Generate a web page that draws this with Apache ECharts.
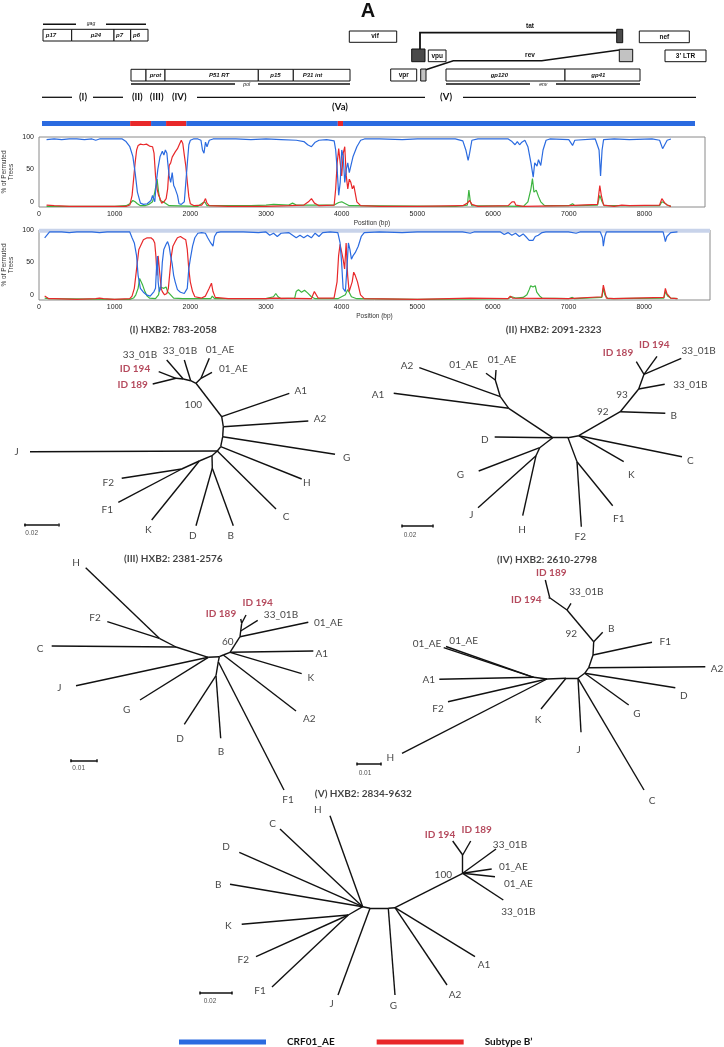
<!DOCTYPE html>
<html><head><meta charset="utf-8">
<script src="https://cdn.jsdelivr.net/npm/echarts@6/dist/echarts.min.js"></script>
<style>html,body{margin:0;padding:0;background:#fff}#c{width:724px;height:1047px}</style>
</head><body><div id="c"></div><script>
// ---------------- DATA ----------------
const posTicks = [0,1000,2000,3000,4000,5000,6000,7000,8000];
const pctTicks = [0,50,100];
const AE = 'CRF01_AE', BP = 'Subtype B\u2019';

// Bootscan 1 : [position bp, % permuted trees]
const blue1 = [[100,96],[200,97],[300,96],[400,97],[500,97],[600,96],[700,97],[750,95],[800,97],[900,97],[1000,97],[1100,97],[1150,93],[1200,85],[1240,70],[1270,45],[1300,15],[1340,-2],[1380,-4],[1430,-3],[1480,2],[1500,10],[1530,0],[1550,30],[1570,50],[1600,70],[1630,78],[1650,72],[1670,80],[1690,75],[1700,62],[1720,40],[1740,30],[1760,45],[1780,25],[1800,20],[1830,10],[1850,-3],[1880,-4],[1920,0],[1940,30],[1960,60],[1980,88],[2000,95],[2040,97],[2100,97],[2140,95],[2160,80],[2180,75],[2200,92],[2220,85],[2250,95],[2300,97],[2600,97],[2800,96],[3000,97],[3200,96],[3400,95],[3500,93],[3550,88],[3600,85],[3650,92],[3700,95],[3800,96],[3900,94],[3920,80],[3940,50],[3960,10],[3980,30],[4000,80],[4020,70],[4040,30],[4060,50],[4080,60],[4100,45],[4120,55],[4150,70],[4200,85],[4250,95],[4300,97],[4500,97],[4800,96],[5000,97],[5300,97],[5500,97],[5600,94],[5640,80],[5670,64],[5690,75],[5720,95],[5800,97],[6000,97],[6200,97],[6250,93],[6290,88],[6320,93],[6350,88],[6380,92],[6420,95],[6460,85],[6500,60],[6530,38],[6550,60],[6580,55],[6600,65],[6630,56],[6660,80],[6700,95],[6750,97],[7000,96],[7050,87],[7080,95],[7100,97],[7350,97],[7400,80],[7420,40],[7440,80],[7460,96],[7600,97],[7800,96],[8100,97],[8200,95],[8240,82],[8260,84],[8300,95],[8350,97]];
const red1 = [[100,-5],[200,-6],[400,-7],[800,-7],[1000,-7],[1150,-7],[1200,-5],[1230,10],[1250,35],[1270,60],[1290,80],[1310,87],[1340,89],[1380,88],[1420,89],[1460,86],[1500,85],[1520,75],[1540,40],[1560,20],[1580,10],[1600,5],[1620,-2],[1650,0],[1680,5],[1700,20],[1720,56],[1740,60],[1760,69],[1780,72],[1800,77],[1830,82],[1860,90],[1880,95],[1900,90],[1920,72],[1940,55],[1960,30],[1980,8],[2000,-3],[2050,-6],[2150,-5],[2180,0],[2200,5],[2220,-2],[2250,-6],[2500,-7],[3000,-7],[3300,-6],[3500,-5],[3560,0],[3600,5],[3640,-2],[3700,-6],[3900,-5],[3920,20],[3940,60],[3960,82],[3980,60],[4000,40],[4020,75],[4040,85],[4060,40],[4080,20],[4100,35],[4120,30],[4140,20],[4160,25],[4200,0],[4250,-6],[4500,-7],[5000,-7],[5600,-6],[5660,-2],[5690,2],[5720,-4],[5800,-7],[6200,-6],[6250,0],[6280,0],[6300,-5],[6400,-7],[7000,-6],[7380,-4],[7410,25],[7430,10],[7460,-5],[7600,-7],[7700,-5],[7800,-6],[8200,-5],[8230,5],[8270,-2],[8300,-5],[8350,-7]];
const green1 = [[100,-7],[1000,-7],[1150,-6],[1200,-3],[1240,2],[1270,0],[1300,-3],[1340,-6],[1400,-6],[1450,-4],[1500,0],[1530,15],[1560,35],[1580,15],[1600,2],[1640,0],[1680,-3],[1720,-6],[2100,-7],[2160,-2],[2190,0],[2220,-6],[2800,-6],[3000,-5],[3100,-4],[3300,-5],[3350,-2],[3400,-5],[3600,-5],[3900,-5],[3960,-1],[4000,0],[4050,-3],[4100,-6],[5500,-7],[5660,-5],[5680,18],[5700,0],[5720,-6],[6400,-7],[6460,0],[6500,20],[6520,36],[6540,15],[6570,18],[6600,8],[6630,0],[6680,-6],[7000,-6],[7050,-3],[7080,-6],[7380,-5],[7410,10],[7440,0],[7470,-6],[8200,-6],[8230,0],[8270,-2],[8300,-5],[8350,-7]];

// Bootscan 2
const blue2 = [[75,88],[140,97],[300,97],[400,96],[500,97],[700,97],[800,96],[900,97],[1000,97],[1100,97],[1200,97],[1230,88],[1260,80],[1290,60],[1310,30],[1340,10],[1380,4],[1420,0],[1470,-2],[1520,5],[1540,10],[1555,45],[1565,60],[1575,20],[1590,5],[1610,10],[1630,50],[1650,70],[1680,78],[1700,82],[1720,75],[1740,60],[1760,48],[1780,30],[1800,20],[1830,8],[1870,4],[1920,2],[1960,10],[1980,40],[2000,55],[2030,75],[2060,88],[2100,95],[2150,96],[2200,95],[2230,88],[2270,80],[2300,75],[2320,90],[2350,96],[2400,97],[2700,97],[2900,96],[3000,97],[3050,92],[3100,95],[3150,90],[3200,95],[3300,96],[3400,88],[3450,92],[3500,88],[3550,92],[3600,88],[3650,95],[3700,90],[3750,96],[3850,97],[3950,96],[3980,80],[4000,50],[4020,10],[4050,5],[4070,40],[4090,80],[4110,70],[4130,55],[4150,60],[4180,65],[4220,75],[4260,90],[4300,96],[4500,97],[4800,96],[5000,97],[5600,97],[5700,95],[5750,97],[6100,97],[6150,93],[6200,96],[6250,92],[6300,95],[6350,90],[6400,94],[6450,88],[6480,84],[6500,86],[6530,84],[6560,90],[6600,92],[6650,96],[6700,97],[7000,97],[7100,95],[7150,97],[7420,97],[7450,88],[7460,75],[7480,90],[7500,97],[7700,97],[8250,97],[8270,88],[8280,82],[8300,90],[8350,96],[8440,97]];
const red2 = [[75,-2],[100,-4],[130,-6],[200,-6],[500,-7],[750,-6],[800,-5],[850,-6],[1000,-7],[1200,-6],[1230,-2],[1260,10],[1280,30],[1300,50],[1320,70],[1340,75],[1380,85],[1430,88],[1480,88],[1510,85],[1530,80],[1545,60],[1560,30],[1575,60],[1600,60],[1615,10],[1630,5],[1660,0],[1690,2],[1710,10],[1730,35],[1750,60],[1770,75],[1800,82],[1830,88],[1870,90],[1910,87],[1940,85],[1960,70],[1980,40],[2000,20],[2030,5],[2060,-3],[2150,-5],[2200,-2],[2250,10],[2280,18],[2300,5],[2330,-4],[2500,-6],[3000,-6],[3100,-5],[3600,-6],[3640,5],[3660,8],[3690,-5],[3900,-5],[3940,20],[3960,60],[3980,78],[4000,80],[4020,55],[4040,40],[4060,80],[4080,30],[4100,5],[4140,20],[4160,35],[4180,30],[4210,20],[4250,0],[4300,-6],[5000,-7],[5700,-5],[6200,-6],[6230,-2],[6260,-5],[7000,-6],[7440,-3],[7460,15],[7480,5],[7500,-5],[7600,-6],[8260,-4],[8280,10],[8300,2],[8350,-5],[8440,-6]];
const green2 = [[75,-5],[100,-3],[130,-6],[1000,-7],[1200,-7],[1250,-5],[1280,0],[1310,10],[1330,25],[1350,28],[1370,15],[1400,5],[1430,-2],[1460,-5],[1540,-6],[1580,0],[1600,12],[1620,15],[1650,10],[1680,12],[1700,5],[1720,8],[1740,0],[1780,-5],[1900,-6],[2270,-6],[2290,-2],[2320,-6],[3000,-6],[3100,-3],[3130,2],[3160,-3],[3200,-6],[3380,-5],[3400,5],[3430,8],[3470,4],[3510,7],[3550,3],[3600,-3],[3650,-6],[3950,-6],[4050,0],[4080,8],[4100,4],[4130,-3],[4200,-6],[5000,-7],[6200,-6],[6250,-3],[6300,-5],[6400,-4],[6450,0],[6480,8],[6500,14],[6530,12],[6560,14],[6580,4],[6620,-2],[6650,-5],[7000,-6],[7050,-4],[7080,-6],[7440,-4],[7460,10],[7480,0],[7520,-6],[8260,-5],[8280,5],[8310,-2],[8350,-5],[8440,-6]];
const band2 = [[0,99],[8870,99]];

// Recombination map: [start %, end %, subtype]
const recombSegments = [[0,13.5,'AE'],[13.5,16.7,'B'],[16.7,19.0,'AE'],[19.0,22.1,'B'],[22.1,45.3,'AE'],[45.3,46.1,'B'],[46.1,100,'AE']];

// Trees: nodes [id, x, y, parent] in drawing units; labels [text, x, y, kind]
const tree1Nodes = [['n1',196,68.3,'n6'],['n2',190.7,65.7,'n1'],['n3',183.3,64,'n2'],['n4',176,63.3,'n3'],['n5',201,63.3,'n1'],
 ['t1',184.3,45,'n2'],['t2',166.7,45,'n3'],['t3',158.7,56.7,'n4'],['t4',152.7,69,'n4'],['t5',209.3,43.3,'n5'],['t6',212,57.3,'n5'],
 ['n6',221.7,101.7,'n7'],['A1',289.3,78.3,'n6'],['n7',223.3,111.7,'n8'],['A2',308.3,106,'n7'],['n8',222.7,121.7,'n9'],['G',335,139.3,'n8'],
 ['n9',220.7,131.7,'n10'],['H',301.7,164,'n9'],['n10',217.3,136,'n11'],['C',276,194,'n10'],['J',30,136.7,'n10'],['n11',212,140.7,null],
 ['n12',212.3,153.3,'n11'],['D',196,210.7,'n12'],['B',233.3,210.7,'n12'],['n13',199.3,146,'n11'],['K',151.7,205,'n13'],
 ['n14',181.7,154,'n13'],['F2',121.7,163.3,'n14'],['F1',118.3,187.3,'n14']];
const tree1Labels = [['(I) HXB2: 783-2058',173.3,15,'title'],['33_01B',140,39.3],['33_01B',180,36],['01_AE',220,35],['01_AE',233.3,54],['ID 194',135,53.3,'red'],['ID 189',132.7,70,'red'],['100',193.3,90],['A1',300.7,76],['A2',320,104],['G',346.7,142.7],['J',16.7,136.7],['H',306.7,167.3],['C',286,201.7],['B',230.7,220.7],['D',192.7,220.7],['K',148.3,215],['F1',107.3,195],['F2',108.3,167.3],['0.02',31.7,218.3,'small']];

const tree2Nodes = [['hl',190.7,122.7,null],['hr',206,122.7,'hl'],['p1',146.7,93.3,'hl'],['p2',138.3,81.7,'p1'],['p3',133.3,65,'p2'],
 ['ae1',124,58.3,'p3'],['ae2',134,55,'p3'],['A1',31.7,78.3,'p1'],['A2',57.3,52.7,'p2'],['D',132.7,122,'hl'],
 ['p4',177.7,132.7,'hl'],['G',116.7,156,'p4'],['p5',174,140.7,'p4'],['J',116,192.7,'p5'],['H',160.7,200.7,'p5'],
 ['p6',215,146.7,'hr'],['F2',219.3,211.7,'p6'],['F1',250.7,190.7,'p6'],['hr2',216.7,120.7,'hr'],['K',261.7,146.7,'hr2'],['C',320,141.7,'hr2'],
 ['p7',258.3,96.7,'hr2'],['B',303.3,98.3,'p7'],['p8',276.7,74,'p7'],['b1',302.7,69.3,'p8'],
 ['p9',282,59.3,'p8'],['b2',319.3,43.3,'p9'],['i194',295,41.3,'p9'],['i189',274.3,46.7,'p9']];
const tree2Labels = [['(II) HXB2: 2091-2323',191.7,15,'title'],['01_AE',101.7,50],['01_AE',140,45],['A2',45,50.3],['A1',16,80],['D',122.7,125],['G',98.3,159.3],['J',109.3,200],['H',160,215],['F2',218.3,221.7],['F1',256.7,203.3],['K',269.3,159.3],['C',328.3,145.7],['92',240.7,96.7],['B',311.7,101],['93',260,80],['33_01B',328.3,70],['33_01B',336.7,36],['ID 189',256,37.3,'red'],['ID 194',292.3,29.3,'red'],['0.02',48,220.7,'small']];

const tree3Nodes = [['hl',208.3,112.3,null],['hr',219.3,111.7,'hl'],['r0',223.3,110,'hr'],['A2',296,166,'r0'],
 ['r1',230,107.3,'r0'],['A1',313.3,106,'r1'],['K',301.7,128.7,'r1'],['r2',240,91.7,'r1'],['ae',308.3,77.3,'r2'],
 ['r3',240.7,86,'r2'],['b',257.7,75.3,'r3'],['r4',241.7,78.3,'r3'],['i189',240.7,74,'r4'],['i194',246,70,'r4'],
 ['l1',218.3,116.7,'hr'],['F1',284,245,'l1'],['l2',216,130.7,'l1'],['B',220.7,193.3,'l2'],['D',184.3,179.3,'l2'],
 ['G',140,155,'hl'],['J',76,140.7,'hl'],['pc',176,102,'hl'],['C',51.7,101,'pc'],['pf',159.3,93.3,'pc'],['H',85.7,22.7,'pf'],['F2',107.3,76.7,'pf']];
const tree3Labels = [['(III) HXB2: 2381-2576',173.3,13.3,'title'],['H',76,17.3],['F2',95,72.7],['C',40,103.3],['J',59.3,142.7],['G',126.7,165],['D',180,193.3],['B',221,206.7],['A2',309.3,173.3],['K',310.7,132.7],['A1',321.7,108.3],['01_AE',328.3,77.3],['33_01B',281,70],['ID 194',257.7,57.7,'red'],['ID 189',221,69,'red'],['60',227.7,96.7],['F1',288,255],['0.01',78.7,223,'small']];

const tree4Nodes = [['q0',193.7,132.3,'q1'],['ae1',103.7,102.7,'q0'],['ae2',106,101.5,'q0'],['A1',99.3,134.3,'q0'],
 ['q1',207,134,'q2'],['F2',108,156.7,'q1'],['H',62,208.3,'q1'],['q2',226,133.3,'q4'],['K',201,164,'q2'],
 ['q4',238,133.3,null],['J',241,187.3,'q4'],['C',304,245,'q4'],['q5',244.7,128.3,'q4'],['G',288.7,160,'q5'],['D',335.3,142.7,'q5'],
 ['q6',248.7,122.7,'q5'],['A2',365.3,121.7,'q6'],['q7',253,110,'q6'],['F1',312,97.3,'q7'],['q8',253.7,96.7,'q7'],['B',262.7,87.3,'q8'],
 ['q9',227,65,'q8'],['b',231,58.3,'q9'],['q10',209.7,52.7,'q9'],['i189',205.3,35,'q10'],['i194',208.7,53.3,'q10']];
const tree4Labels = [['(IV) HXB2: 2610-2798',207,15,'title'],['ID 189',211.3,27.3,'red'],['ID 194',186.3,55,'red'],['33_01B',246.3,46.7],['92',231.3,88.3],['B',271.3,84],['F1',325.3,96.7],['A2',377,124],['D',343.7,150.7],['G',297,168.3],['J',238.7,205],['K',198,175],['H',50.3,212.3],['A1',88.7,135],['F2',98,163.3],['01_AE',87,99],['01_AE',123.7,96],['C',312,256],['0.01',25,228,'small']];

const tree5Nodes = [['hl',182.7,131.7,'hm'],['H',150,40.7,'hl'],['C',100,54,'hl'],['D',59.3,77.3,'hl'],['B',50,109.3,'hl'],
 ['v1',168.3,140,'hl'],['K',61.7,149.3,'v1'],['F2',76,181.7,'v1'],['F1',92,212,'v1'],
 ['hm',190,133.3,'hr'],['J',158,220,'hm'],['hr',208.3,133.3,null],['G',215,220,'hr'],
 ['hr2',215,132.7,'hr'],['A2',267,210,'hr2'],['A1',295,181.7,'hr2'],
 ['v2',282.7,98.3,'hr2'],['b1',316,74,'v2'],['ae1',311.7,94,'v2'],['ae2',315,101.7,'v2'],['b2',323.3,125,'v2'],
 ['v3',282.7,80,'v2'],['i194',272.7,66,'v3'],['i189',290.7,66,'v3']];
const tree5Labels = [['(V) HXB2: 2834-9632',183.3,19,'title'],['ID 194',260,59.3,'red'],['ID 189',296.7,55,'red'],['33_01B',330,69.3],['01_AE',333.3,91.7],['01_AE',338.3,108.3],['33_01B',338.3,136.7],['100',263.3,99.3],['A1',304,190],['H',137.7,35],['C',92.7,48.3],['D',46,71.7],['B',38.3,109.3],['K',48.3,151],['F2',63.3,185],['F1',80,216],['J',151.7,229],['G',213.3,231],['A2',275,220],['0.02',30,226,'small']];

// ---------------- LAYOUT / STYLE ----------------
const C_BLUE = '#2b6be0', C_RED = '#e8282a', C_GREEN = '#3cb43f', C_ID = '#a21d35';
const panels = [
 {nodes:tree1Nodes, labels:tree1Labels, x:0, y:315, w:362, h:235, bar:[24.3,58.3,210]},
 {nodes:tree2Nodes, labels:tree2Labels, x:362, y:315, w:362, h:235, bar:[40,70.7,211]},
 {nodes:tree3Nodes, labels:tree3Labels, x:0, y:545, w:362, h:270, bar:[70.7,96.7,215.7]},
 {nodes:tree4Nodes, labels:tree4Labels, x:340, y:545, w:384, h:270, bar:[17,41,219]},
 {nodes:tree5Nodes, labels:tree5Labels, x:180, y:775, w:400, h:265, bar:[20,52,218]}
];

const grids = [], xAxes = [], yAxes = [], series = [];
const axisFont = {fontSize:7, color:'#222', fontFamily:'Liberation Sans'};
function plotAxes(gi, top, right, xmax){
  grids.push({left:39, right:right, top:top, height:70, show:true, borderColor:'#8a8a8a', borderWidth:1, backgroundColor:'transparent', outerBoundsMode:'none'});
  xAxes.push({type:'value', gridIndex:gi, min:0, max:xmax, axisLine:{show:false}, axisTick:{show:false}, splitLine:{show:false},
    axisLabel:Object.assign({customValues:posTicks, margin:4, formatter:function(v){return String(v);}}, axisFont),
    name:'Position (bp)', nameLocation:'middle', nameGap:13, nameMoveOverlap:false, nameTextStyle:{fontSize:6.5, color:'#333', fontFamily:'Liberation Sans'}});
  yAxes.push({type:'value', gridIndex:gi, min:-8, max:100, axisLine:{show:false}, axisTick:{show:false}, splitLine:{show:false},
    axisLabel:Object.assign({customValues:pctTicks, margin:5, formatter:function(v){return String(v);}}, axisFont),
    name:'% of Permuted\nTrees', nameLocation:'middle', nameGap:24, nameRotate:90, nameMoveOverlap:false, nameTextStyle:{fontSize:6.5, lineHeight:7, color:'#333', fontFamily:'Liberation Sans'}});
}
plotAxes(0, 137, 19, 8800);
plotAxes(1, 230, 14, 8870);
function bs(name, data, color, gi, z){
  return {name:name, type:'line', xAxisIndex:gi, yAxisIndex:gi, data:data, showSymbol:false, symbol:'none', silent:true, z:z,
    lineStyle:{color:color, width:1.2}, itemStyle:{color:color}};
}
series.push({type:'line', xAxisIndex:1, yAxisIndex:1, data:band2, symbol:'none', silent:true, z:1, lineStyle:{color:'#c8d3ea', width:4}});
series.push(bs('green', green1, C_GREEN, 0, 2), bs(BP, red1, C_RED, 0, 3), bs(AE, blue1, C_BLUE, 0, 4));
series.push(bs('green', green2, C_GREEN, 1, 2), bs(BP, red2, C_RED, 1, 3), bs(AE, blue2, C_BLUE, 1, 4));

// recombination bar
grids.push({left:42, width:653, top:121, height:5, show:false, outerBoundsMode:'none'});
xAxes.push({type:'value', gridIndex:2, min:0, max:100, show:false});
yAxes.push({type:'value', gridIndex:2, min:0, max:1, show:false});
series.push({type:'custom', xAxisIndex:2, yAxisIndex:2, silent:true, encode:{x:[0,1]},
  data: recombSegments.map(s => [s[0], s[1], s[2]==='B' ? 1 : 0]),
  renderItem: function(params, api){
    const a = api.coord([api.value(0), 1]), b = api.coord([api.value(1), 0]);
    return {type:'rect', shape:{x:a[0], y:a[1], width:b[0]-a[0], height:b[1]-a[1]}, style:{fill: api.value(2) ? C_RED : C_BLUE}};
  }});

// trees
panels.forEach(function(p, i){
  const gi = 3 + i;
  grids.push({left:p.x, top:p.y, width:p.w, height:p.h, show:false, outerBoundsMode:'none'});
  xAxes.push({type:'value', gridIndex:gi, min:0, max:p.w, show:false});
  yAxes.push({type:'value', gridIndex:gi, min:0, max:p.h, inverse:true, show:false});
  const map = {}; p.nodes.forEach(n => map[n[0]] = n);
  const edges = p.nodes.filter(n => n[3]).map(n => ({coords:[[n[1], n[2]], [map[n[3]][1], map[n[3]][2]]]}));
  series.push({type:'lines', coordinateSystem:'cartesian2d', xAxisIndex:gi, yAxisIndex:gi, polyline:false, silent:true, z:5,
    lineStyle:{color:'#111', width:1.4, opacity:1, curveness:0}, data:edges});
  const b = p.bar;
  series.push({type:'lines', coordinateSystem:'cartesian2d', xAxisIndex:gi, yAxisIndex:gi, polyline:false, silent:true, z:5,
    lineStyle:{color:'#111', width:1.5, opacity:1}, data:[{coords:[[b[0],b[2]],[b[1],b[2]]]},{coords:[[b[0],b[2]-1.5],[b[0],b[2]+1.5]]},{coords:[[b[1],b[2]-1.5],[b[1],b[2]+1.5]]}]});
  series.push({type:'scatter', xAxisIndex:gi, yAxisIndex:gi, silent:true, symbolSize:1, z:6, itemStyle:{color:'rgba(0,0,0,0)'},
    data: p.labels.map(function(l){
      const k = l[3];
      const st = {show:true, position:'inside', formatter:'{b}', fontFamily:'Lato', fontSize:10, color:'#111'};
      if (k === 'red') { st.color = C_ID; st.fontWeight = 'bold'; }
      if (k === 'title') { st.fontWeight = 'bold'; st.fontSize = 10; st.color = '#111'; }
      if (k === 'small') { st.fontSize = 6.5; st.fontFamily = 'Liberation Sans'; st.color = '#222'; }
      return {name:l[0], value:[l[1], l[2]], label:st};
    })});
});

// genome map schematic (layout graphics)
const G = [];
const boxFont = 'italic bold 6px Liberation Sans', plainFont = 'bold 6.5px Liberation Sans';
function rect(x0,x1,y0,y1,fill){ G.push({type:'rect', shape:{x:x0, y:y0, width:x1-x0, height:y1-y0}, style:{fill:fill||'#fff', stroke:'#111', lineWidth:1}, z:10}); }
function line(x1,y1,x2,y2,w){ G.push({type:'line', shape:{x1:x1,y1:y1,x2:x2,y2:y2}, style:{stroke:'#111', lineWidth:w||1.6}, z:10}); }
function txt(t,x,y,font,fill){ G.push({type:'text', x:x, y:y, style:{text:t, font:font, fill:fill||'#111', textAlign:'center', textVerticalAlign:'middle'}, z:11}); }
txt('A', 368, 11, 'bold 20px Liberation Sans');
line(43,24.3,76,24.3); line(106,24.3,146,24.3); txt('gag', 91, 23.5, 'italic 5px Liberation Sans');
[[43,71.7,'p17',51],[71.7,114,'p24',96],[114,130.7,'p7',119.5],[130.7,148,'p6',136.5]].forEach(b=>{rect(b[0],b[1],29.3,41); txt(b[2],b[3],35.2,boxFont);});
[[131,146,'',0],[146,165,'prot',155.5],[165,258.3,'P51 RT',219],[258.3,293.3,'p15',275.5],[293.3,350,'P31 int',312.5]].forEach(b=>{rect(b[0],b[1],69.3,81); if(b[2]) txt(b[2],b[3],75.2,boxFont);});
line(131,84,235,84); line(258,84,350,84); txt('pol', 246.7, 85, 'italic 5px Liberation Sans');
rect(349.3,396.7,31,42.3); txt('vif',375,36.7,plainFont);
rect(639.3,689.3,31,42.7); txt('nef',664.3,36.8,plainFont);
rect(428.3,446,50,61.7); txt('vpu',437.2,55.8,plainFont);
rect(665,706,50,61.7); txt('3\u2019 LTR',685.5,55.8,plainFont);
rect(390.7,416.7,69,81); txt('vpr',403.7,75,plainFont);
rect(446,565,69,81); txt('gp120',499.3,75,boxFont);
rect(565,640,69,81); txt('gp41',598.3,75,boxFont);
line(446,84,530,84); line(556,84,640,84); txt('env', 543.3, 85, 'italic 5px Liberation Sans');
G.push({type:'polyline', shape:{points:[[420,50],[420,32.7],[617,32.7]]}, style:{stroke:'#111', lineWidth:1.8, fill:null}, z:10});
rect(616.7,622.7,29.3,42.7,'#4a4a4a'); rect(411.7,425,49,61.7,'#4a4a4a');
txt('tat', 530, 26.5, 'bold 6.5px Liberation Sans');
G.push({type:'polyline', shape:{points:[[619.3,50],[541.7,60.7],[453.3,60.7],[425,70]]}, style:{stroke:'#111', lineWidth:1.6, fill:null}, z:10});
rect(619.3,632.7,49.3,61.7,'#c2c2c2'); rect(420.7,426,69,81,'#c2c2c2');
txt('rev', 530, 55, 'bold 6.5px Liberation Sans');
// region row
line(42,97.3,72,97.3,1.3); line(93,97.3,123,97.3,1.3); line(197,97.3,425,97.3,1.3); line(463,97.3,696,97.3,1.3);
const rf = 'bold 9.5px Lato';
txt('(I)',83,97,rf); txt('(II)',137.3,97,rf); txt('(III)',156.7,97,rf); txt('(IV)',179.3,97,rf); txt('(V)',446,97,rf); txt('(Va)',340,106.7,rf);

const option = {
  animation:false, backgroundColor:'#fff',
  grid:grids, xAxis:xAxes, yAxis:yAxes, series:series, graphic:{elements:G},
  legend:{data:[AE, BP], left:179, top:1037, icon:'rect', itemWidth:87, itemHeight:5, itemGap:42, selectedMode:false, padding:0,
    textStyle:{fontFamily:'Lato', fontWeight:'bold', fontSize:10, color:'#111', padding:[0,0,0,16]}}
};
const chart = echarts.init(document.getElementById('c'), null, {renderer:'canvas', width:724, height:1047});
chart.setOption(option);
</script></body></html>
